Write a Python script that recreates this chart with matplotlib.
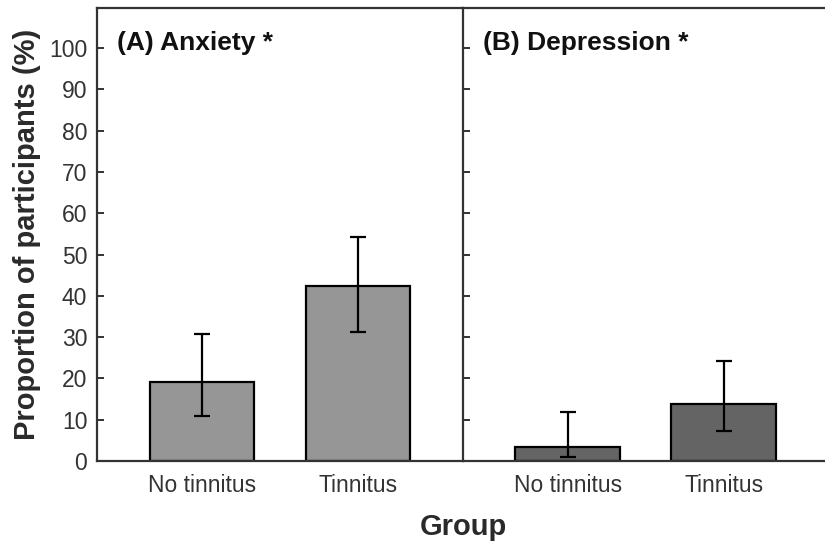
import numpy as np
import matplotlib
matplotlib.use("Agg")
import matplotlib.pyplot as plt

plt.rcParams["font.family"] = ["Liberation Sans", "DejaVu Sans"]

GROUPS = ["No tinnitus", "Tinnitus"]
PANEL_TITLES = ["(A) Anxiety *", "(B) Depression *"]
ANXIETY = [19.1, 42.4]
ANXIETY_LO = [10.9, 31.2]
ANXIETY_HI = [30.8, 54.2]
DEPRESSION = [3.4, 13.8]
DEPRESSION_LO = [1.0, 7.3]
DEPRESSION_HI = [11.9, 24.2]
YTICKS = list(range(0, 101, 10))

INK = "#111111"
SPINE = "#333333"
FILLS = ["#969696", "#646464"]

fig = plt.figure(figsize=(8.25, 5.47), dpi=100)
fig.patch.set_facecolor("white")
ax_a = fig.add_axes([0.1176, 0.1572, 0.4436, 0.8282])
ax_b = fig.add_axes([0.5612, 0.1572, 0.4436, 0.8282])

panels = [
    (ax_a, ANXIETY, ANXIETY_LO, ANXIETY_HI),
    (ax_b, DEPRESSION, DEPRESSION_LO, DEPRESSION_HI),
]
x = np.arange(len(GROUPS))
for i, (ax, vals, lo, hi) in enumerate(panels):
    vals = np.array(vals)
    yerr = np.vstack([vals - np.array(lo), np.array(hi) - vals])
    ax.bar(x, vals, 0.673, color=FILLS[i], edgecolor="black", linewidth=1.6,
           zorder=2)
    ax.errorbar(x, vals, yerr=yerr, fmt="none", ecolor="black", elinewidth=1.6,
                capsize=5.5, capthick=1.6, zorder=3)
    ax.set_xlim(-0.673, 1.673)
    ax.set_ylim(0, 109.7)
    ax.set_yticks(YTICKS)
    ax.set_xticks(x, GROUPS)
    ax.tick_params(axis="y", direction="in", length=5, width=1.4,
                   color=SPINE, labelsize=16.5, labelcolor=SPINE, pad=7)
    ax.tick_params(axis="x", length=0, labelsize=16.5, labelcolor=SPINE, pad=9)
    ax.spines["right"].set_visible(False)
    for s in ("left", "top", "bottom"):
        ax.spines[s].set_color(SPINE)
        ax.spines[s].set_linewidth(1.6)
    ax.text(0.055, 0.923, PANEL_TITLES[i], transform=ax.transAxes,
            fontsize=19, fontweight="bold", color=INK, va="center", ha="left")

ax_b.tick_params(axis="y", labelleft=False)
ax_a.set_ylabel("Proportion of participants (%)", fontsize=21,
                fontweight="bold", color="#2a2a2a", labelpad=6)
fig.text(0.5612, 0.036, "Group", fontsize=21, fontweight="bold",
         color="#2a2a2a", ha="center", va="center")

fig.savefig("out.png", dpi=100, facecolor="white")
